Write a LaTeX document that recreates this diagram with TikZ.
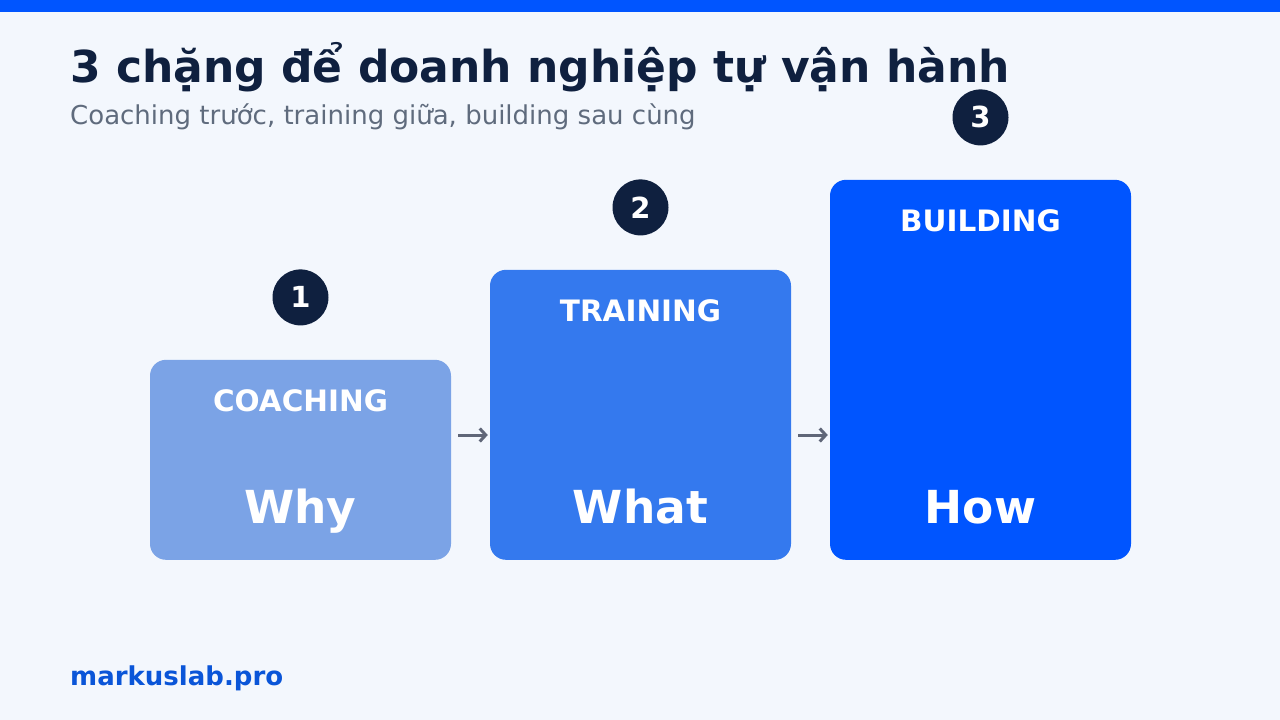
\documentclass[tikz,border=0pt]{standalone}
\usepackage{fontspec}
\setmainfont{DejaVu Sans}
\usetikzlibrary{arrows.meta,positioning,calc}

\definecolor{pagebg}{HTML}{F3F7FD}
\definecolor{topbar}{HTML}{0055FF}
\definecolor{navy}{HTML}{0F203F}
\definecolor{subgray}{HTML}{5F6B7D}
\definecolor{arrowgray}{HTML}{5F6678}
\definecolor{stepone}{HTML}{7BA3E6}
\definecolor{steptwo}{HTML}{3479EE}
\definecolor{stepthree}{HTML}{0055FF}
\definecolor{sitelink}{HTML}{0A55D8}

\tikzset{
  stagebox/.style={rectangle, rounded corners=16pt, minimum width=301pt,
                   inner sep=0pt, anchor=south},
  stagename/.style={text=white, font=\bfseries\fontsize{29.5}{31}\selectfont,
                    anchor=base},
  stageword/.style={text=white, font=\bfseries\fontsize{45.5}{48}\selectfont,
                    anchor=base},
  stagenum/.style={circle, fill=navy, text=white, minimum size=56pt,
                   inner sep=0pt, font=\bfseries\fontsize{29}{31}\selectfont},
  flow/.style={arrowgray, line width=3pt,
               -{Straight Barb[length=6pt,width=13pt,line width=3pt]}}
}

\begin{document}
\begin{tikzpicture}[x=1pt,y=-1pt]
\useasboundingbox (0,0) rectangle (1280,720);
\fill[pagebg] (0,0) rectangle (1280,720);
\fill[topbar] (0,0) rectangle (1280,12);

% heading
\node[anchor=base west, inner sep=0pt, text=navy,
      font=\bfseries\fontsize{44}{48}\selectfont] (title) at (70,82)
  {3 chặng để doanh nghiệp tự vận hành};
\node[anchor=base west, inner sep=0pt, text=subgray,
      font=\fontsize{26}{30}\selectfont] (subtitle) at (70,124)
  {Coaching trước, training giữa, building sau cùng};

% the three stages
\node[stagebox, fill=stepone, minimum height=200pt] (coach) at (300.5,560) {};
\node[stagebox, fill=steptwo, minimum height=290pt] (train) at (640.5,560) {};
\node[stagebox, fill=stepthree, minimum height=380pt] (build) at (980.5,560) {};

\node[stagename] (coachname) at ([yshift=-52pt]coach.north) {COACHING};
\node[stagename] (trainname) at ([yshift=-52pt]train.north) {TRAINING};
\node[stagename] (buildname) at ([yshift=-52pt]build.north) {BUILDING};

\node[stageword] (why)  at ([yshift=37pt]coach.south) {Why};
\node[stageword] (what) at ([yshift=37pt]train.south) {What};
\node[stageword] (how)  at ([yshift=37pt]build.south) {How};

\node[stagenum, above=34pt of coach] (one)   {1};
\node[stagenum, above=34pt of train] (two)   {2};
\node[stagenum, above=34pt of build] (three) {3};

% arrows between stages
\coordinate (row) at (0,435);
\draw[flow] ([xshift=7pt]coach.east |- row) -- ([xshift=-2pt]train.west |- row);
\draw[flow] ([xshift=7pt]train.east |- row) -- ([xshift=-2pt]build.west |- row);

% footer
\node[anchor=base west, inner sep=0pt, text=sitelink,
      font=\bfseries\fontsize{26}{29}\selectfont] (site) at (70,685)
  {markuslab.pro};
\end{tikzpicture}
\end{document}
